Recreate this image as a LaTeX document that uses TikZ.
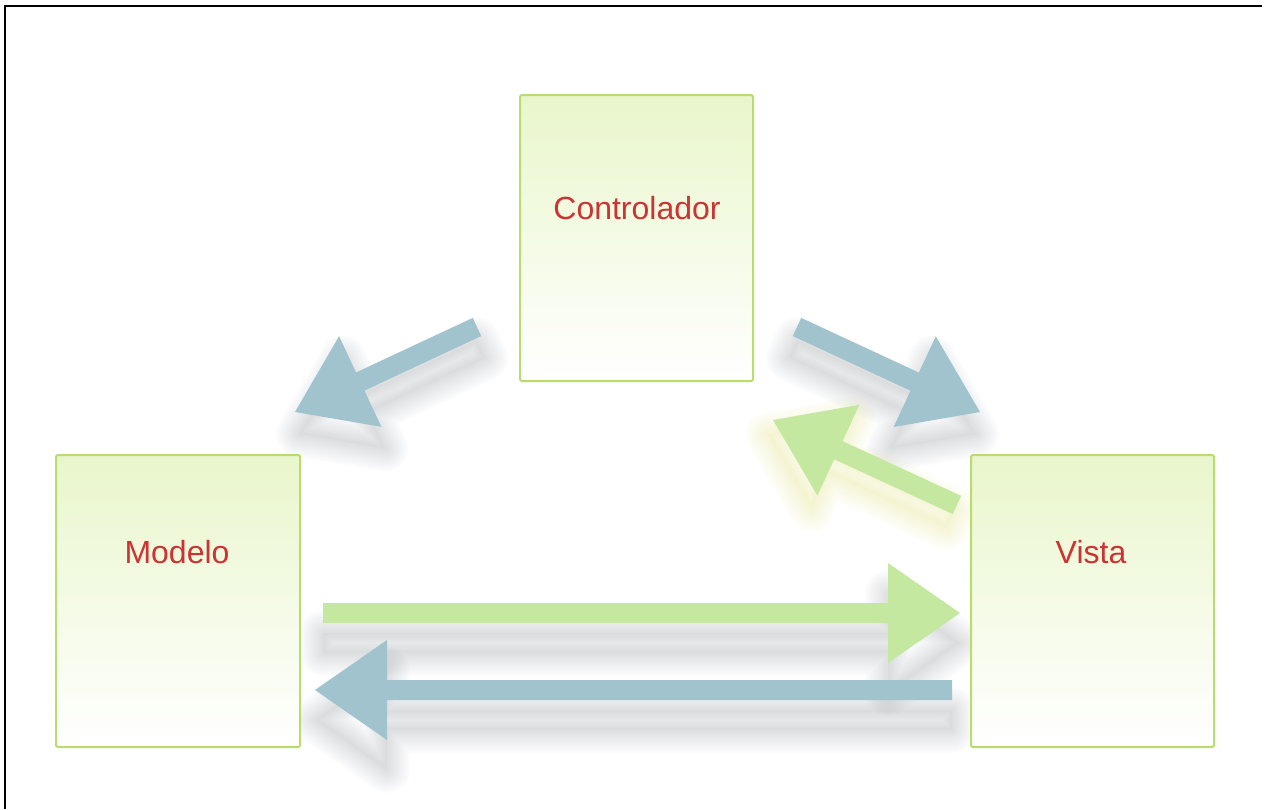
\documentclass[tikz,border=0pt]{standalone}
\usepackage{fontspec}
\setmainfont{Liberation Sans}
\usetikzlibrary{calc}
\definecolor{boxline}{RGB}{184,220,110}
\definecolor{boxtop}{RGB}{233,246,203}
\definecolor{lblred}{RGB}{204,51,51}
\definecolor{arrblue}{RGB}{160,195,205}
\definecolor{arrgreen}{RGB}{197,232,160}
\definecolor{shadowgray}{RGB}{120,125,130}
\definecolor{glowyellow}{RGB}{235,232,90}

\newcommand{\arrgeom}[2]{%
  \path let \p1=($(#2)-(#1)$) in \pgfextra{%
    \pgfmathsetmacro\tmpang{atan2(\y1,\x1)}%
    \pgfmathsetmacro\tmplen{veclen(\x1,\y1)}%
    \global\let\GArrAng\tmpang
    \global\let\GArrLen\tmplen};}
\newcommand{\arrpoly}{(0pt,-10pt) -- (\GArrLen pt-72pt,-10pt) -- (\GArrLen pt-72pt,-50pt) -- (\GArrLen pt,0pt) -- (\GArrLen pt-72pt,50pt) -- (\GArrLen pt-72pt,10pt) -- (0pt,10pt) -- cycle}
\newcommand{\arrshadow}[4]{%
  \arrgeom{#1}{#2}%
  \fill[#3,opacity=0.03,shift={(#1)},shift={#4},rotate=\GArrAng] \arrpoly;
  \foreach \k in {1,...,10}{%
    \draw[#3,opacity=0.022,line join=round,line width=\k*4.5pt,shift={(#1)},shift={#4},rotate=\GArrAng] \arrpoly;}}
\newcommand{\blockarr}[3]{%
  \arrgeom{#1}{#2}%
  \fill[#3,shift={(#1)},rotate=\GArrAng] \arrpoly;}

\begin{document}
\begin{tikzpicture}[x=1pt,y=-1pt,
  box/.style={draw=boxline,line width=2pt,rounded corners=2pt,top color=boxtop,bottom color=white,inner sep=0pt},
  lbl/.style={text=lblred,font=\fontsize{32}{38}\selectfont,inner sep=0pt}]
\useasboundingbox (0,0) rectangle (1271,809);
\fill[white] (0,0) rectangle (1271,809);
\draw[line width=2.5pt] (5,809) -- (5,6) -- (1262,6);

% arrow end points
\coordinate (cmT) at (477,327);  \coordinate (cmH) at (295,412);
\coordinate (cvT) at (797,327);  \coordinate (cvH) at (980,412);
\coordinate (vcT) at (957,505);  \coordinate (vcH) at (773,420);
\coordinate (mvT) at (323,613);  \coordinate (mvH) at (960,613);
\coordinate (vmT) at (952,690);  \coordinate (vmH) at (315,690);

% shadows and glow
\arrshadow{cmT}{cmH}{shadowgray}{(4,22)}
\arrshadow{cvT}{cvH}{shadowgray}{(-4,22)}
\arrshadow{vcT}{vcH}{glowyellow}{(-6,14)}
\arrshadow{mvT}{mvH}{shadowgray}{(0,30)}
\arrshadow{vmT}{vmH}{shadowgray}{(0,30)}

% boxes
\node[box,minimum width=233pt,minimum height=286pt] (ctrl) at (636.5,238) {};
\node[box,minimum width=244pt,minimum height=292pt] (model) at (178,601) {};
\node[box,minimum width=243pt,minimum height=292pt] (view) at (1092.5,601) {};

% arrows
\blockarr{cmT}{cmH}{arrblue}
\blockarr{cvT}{cvH}{arrblue}
\blockarr{vcT}{vcH}{arrgreen}
\blockarr{mvT}{mvH}{arrgreen}
\blockarr{vmT}{vmH}{arrblue}

% labels
\node[lbl] (ctrltxt) at (637,208) {Controlador};
\node[lbl] (modeltxt) at (177,552) {Modelo};
\node[lbl] (viewtxt) at (1091,552) {Vista};
\end{tikzpicture}
\end{document}
